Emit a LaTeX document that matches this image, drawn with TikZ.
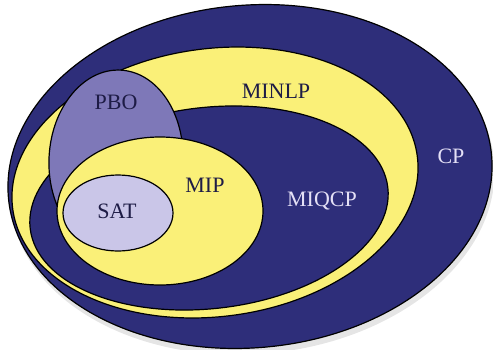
\documentclass[tikz,border=0pt]{standalone}
\usepackage{fontspec}
\setmainfont{Liberation Serif}
\definecolor{navy}{RGB}{46,46,122}
\definecolor{ylw}{RGB}{250,240,120}
\definecolor{pbo}{RGB}{126,120,184}
\definecolor{sat}{RGB}{202,198,232}
\definecolor{lighttxt}{RGB}{228,224,246}
\definecolor{darktxt}{RGB}{30,28,70}
\tikzset{
  region/.style={draw=black, line width=1.2pt},
  lbl/.style={font=\fontsize{22}{26}\selectfont, inner sep=0pt},
}
\begin{document}
\begin{tikzpicture}[x=1pt,y=-1pt]
\useasboundingbox (0,0) rectangle (493,349);
\clip (0,0) rectangle (493,349);
% soft shadow
\fill[black!18, rotate around={5:(251,180)}] (251,180) ellipse [x radius=242.5, y radius=171.3];
\fill[black!10, rotate around={5:(252,182)}] (252,182) ellipse [x radius=243, y radius=172];
% CP
\draw[region, fill=navy, rotate around={5:(250,176.5)}] (250,176.5) ellipse [x radius=242.5, y radius=171.3];
% MINLP
\draw[region, fill=ylw, rotate around={7.4:(215,182.5)}] (215,182.5) ellipse [x radius=204, y radius=134];
% MIQCP
\draw[region, fill=navy, rotate around={6.5:(209,208)}] (209,208) ellipse [x radius=180, y radius=100.6];
% PBO
\draw[region, fill=pbo, rotate around={-3:(116,160)}] (116,160) ellipse [x radius=67, y radius=90];
% MIP
\draw[region, fill=ylw] (160,211) ellipse [x radius=103, y radius=74];
% SAT
\draw[region, fill=sat] (118,213) ellipse [x radius=55, y radius=38];
% labels
\node[lbl, text=lighttxt] (cp) at (451,156) {CP};
\node[lbl, text=darktxt] (minlp) at (276,91) {MINLP};
\node[lbl, text=lighttxt] (miqcp) at (322,201) {MIQCP};
\node[lbl, text=darktxt] (pbo) at (116,102) {PBO};
\node[lbl, text=darktxt] (mip) at (205,185) {MIP};
\node[lbl, text=darktxt] (sat) at (117,211) {SAT};
\end{tikzpicture}
\end{document}
